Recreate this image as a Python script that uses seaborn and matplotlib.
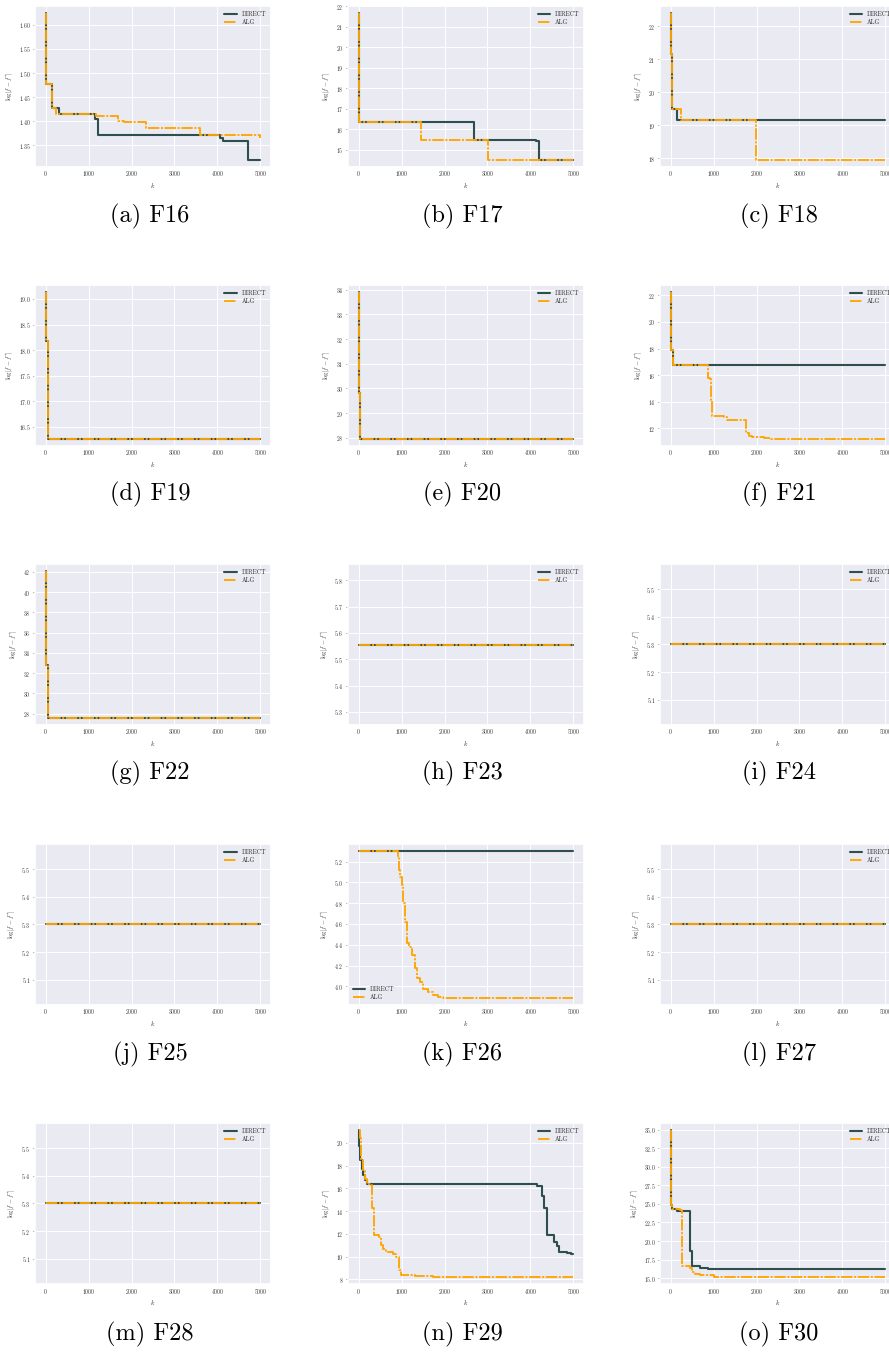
import matplotlib
matplotlib.use("Agg")
import matplotlib.pyplot as plt
from matplotlib.ticker import MaxNLocator
import seaborn as sns

# ---- convergence histories: evaluation count k and log|f - f*| ----
F16_K_DIRECT = [0, 5, 15, 148, 303, 1157, 1211, 4060, 4120, 4713, 5000]
F16_V_DIRECT = [1.624, 1.533, 1.478, 1.428, 1.415, 1.405, 1.371, 1.366, 1.358, 1.320, 1.320]
F16_K_ALG = [0, 5, 15, 148, 240, 1172, 1693, 1832, 2345, 3602, 4990, 5000]
F16_V_ALG = [1.624, 1.533, 1.478, 1.428, 1.415, 1.411, 1.401, 1.398, 1.385, 1.371, 1.366, 1.366]

F17_K_DIRECT = [0, 8, 15, 2686, 4138, 4193, 5000]
F17_V_DIRECT = [21.65, 20.2, 16.35, 15.48, 15.43, 14.52, 14.52]
F17_K_ALG = [0, 8, 15, 1452, 3020, 5000]
F17_V_ALG = [21.65, 20.2, 16.35, 15.5, 14.52, 14.52]

F18_K_DIRECT = [0, 10, 30, 155, 5000]
F18_V_DIRECT = [22.4, 21.15, 19.5, 19.17, 19.17]
F18_K_ALG = [0, 10, 30, 248, 1990, 5000]
F18_V_ALG = [22.4, 21.15, 19.5, 19.17, 17.95, 17.95]

F19_K_DIRECT = [0, 15, 62, 5000]
F19_V_DIRECT = [19.13, 18.17, 16.27, 16.27]
F19_K_ALG = [0, 15, 62, 5000]
F19_V_ALG = [19.13, 18.17, 16.27, 16.27]

F20_K_DIRECT = [0, 15, 31, 5000]
F20_V_DIRECT = [33.89, 29.8, 27.97, 27.97]
F20_K_ALG = [0, 15, 31, 5000]
F20_V_ALG = [33.89, 29.8, 27.97, 27.97]

F21_K_DIRECT = [0, 15, 46, 5000]
F21_V_DIRECT = [22.23, 17.9, 16.78, 16.78]
F21_K_ALG = [0, 15, 46, 860, 922, 945, 969, 1248, 1310, 1752, 1814, 1891, 2163, 2333, 5000]
F21_V_ALG = [22.23, 17.9, 16.78, 15.8, 15.7, 14.1, 12.93, 12.85, 12.63, 11.67, 11.45, 11.35, 11.3, 11.22, 11.22]

F22_K_DIRECT = [0, 15, 55, 5000]
F22_V_DIRECT = [42.05, 32.8, 27.6, 27.6]
F22_K_ALG = [0, 15, 55, 5000]
F22_V_ALG = [42.05, 32.8, 27.6, 27.6]

F23_K_DIRECT = [0, 5000]
F23_V_DIRECT = [5.556, 5.556]
F23_K_ALG = [0, 5000]
F23_V_ALG = [5.556, 5.556]

F24_K_DIRECT = [0, 5000]
F24_V_DIRECT = [5.3, 5.3]
F24_K_ALG = [0, 5000]
F24_V_ALG = [5.3, 5.3]

F25_K_DIRECT = [0, 5000]
F25_V_DIRECT = [5.3, 5.3]
F25_K_ALG = [0, 5000]
F25_V_ALG = [5.3, 5.3]

F26_K_DIRECT = [0, 5000]
F26_V_DIRECT = [5.3, 5.3]
F26_K_ALG = [0, 910, 932, 963, 1000, 1040, 1087, 1118, 1172, 1234, 1312, 1366, 1429, 1506, 1623,
             1739, 1856, 1972, 5000]
F26_V_ALG = [5.3, 5.25, 5.12, 5.05, 4.98, 4.80, 4.62, 4.42, 4.38, 4.30, 4.18, 4.08, 4.04, 3.97, 3.94,
             3.92, 3.90, 3.89, 3.89]

F27_K_DIRECT = [0, 5000]
F27_V_DIRECT = [5.3, 5.3]
F27_K_ALG = [0, 5000]
F27_V_ALG = [5.3, 5.3]

F28_K_DIRECT = [0, 5000]
F28_V_DIRECT = [5.3, 5.3]
F28_K_ALG = [0, 5000]
F28_V_ALG = [5.3, 5.3]

F29_K_DIRECT = [0, 15, 31, 78, 93, 155, 186, 4146, 4262, 4325, 4387, 4557, 4612, 4674, 4845, 4938, 5000]
F29_V_DIRECT = [21.1, 19.7, 18.5, 17.7, 17.2, 16.7, 16.4, 16.2, 15.3, 14.3, 11.88, 11.3, 10.9, 10.41,
                10.3, 10.2, 10.2]
F29_K_ALG = [0, 20, 54, 100, 147, 186, 280, 303, 357, 481, 512, 559, 637, 792, 870, 932, 986, 1118,
             1312, 1739, 5000]
F29_V_ALG = [21.1, 20.4, 18.5, 17.5, 16.8, 16.4, 16.3, 14.3, 11.9, 11.7, 11.0, 10.7, 10.4, 10.2, 9.97,
             8.79, 8.41, 8.35, 8.28, 8.23, 8.23]

F30_K_DIRECT = [0, 8, 30, 147, 442, 504, 690, 860, 922, 5000]
F30_V_DIRECT = [34.9, 24.8, 24.35, 24.1, 18.6, 16.6, 16.4, 16.3, 16.26, 16.26]
F30_K_ALG = [0, 8, 30, 225, 264, 457, 504, 574, 690, 1000, 5000]
F30_V_ALG = [34.9, 24.8, 24.35, 24.2, 16.6, 16.4, 15.8, 15.5, 15.4, 15.2, 15.2]

PANEL_LETTERS = list("abcdefghijklmno")
FUNCTION_NAMES = ["F16", "F17", "F18", "F19", "F20", "F21", "F22", "F23", "F24", "F25",
                  "F26", "F27", "F28", "F29", "F30"]
SERIES_NAMES = ["DIRECT", "ALG"]

HISTORIES = [
    (F16_K_DIRECT, F16_V_DIRECT, F16_K_ALG, F16_V_ALG),
    (F17_K_DIRECT, F17_V_DIRECT, F17_K_ALG, F17_V_ALG),
    (F18_K_DIRECT, F18_V_DIRECT, F18_K_ALG, F18_V_ALG),
    (F19_K_DIRECT, F19_V_DIRECT, F19_K_ALG, F19_V_ALG),
    (F20_K_DIRECT, F20_V_DIRECT, F20_K_ALG, F20_V_ALG),
    (F21_K_DIRECT, F21_V_DIRECT, F21_K_ALG, F21_V_ALG),
    (F22_K_DIRECT, F22_V_DIRECT, F22_K_ALG, F22_V_ALG),
    (F23_K_DIRECT, F23_V_DIRECT, F23_K_ALG, F23_V_ALG),
    (F24_K_DIRECT, F24_V_DIRECT, F24_K_ALG, F24_V_ALG),
    (F25_K_DIRECT, F25_V_DIRECT, F25_K_ALG, F25_V_ALG),
    (F26_K_DIRECT, F26_V_DIRECT, F26_K_ALG, F26_V_ALG),
    (F27_K_DIRECT, F27_V_DIRECT, F27_K_ALG, F27_V_ALG),
    (F28_K_DIRECT, F28_V_DIRECT, F28_K_ALG, F28_V_ALG),
    (F29_K_DIRECT, F29_V_DIRECT, F29_K_ALG, F29_V_ALG),
    (F30_K_DIRECT, F30_V_DIRECT, F30_K_ALG, F30_V_ALG),
]

# ---- style ----
sns.set_theme(style="darkgrid")
plt.rcParams["font.family"] = ["cmr10", "DejaVu Serif"]
plt.rcParams["mathtext.fontset"] = "cm"
plt.rcParams["axes.formatter.use_mathtext"] = True
plt.rcParams["axes.unicode_minus"] = False

DIRECT_COLOR = "#2F4F4F"
ALG_COLOR = "#FFA500"
ALG_DASH = (0, (6.1, 0.85, 1.1, 0.85))

W, H = 889, 1353
fig = plt.figure(figsize=(W / 100, H / 100), dpi=100)
fig.patch.set_facecolor("white")

COL_LEFT = [35, 348, 660]
ROW_TOP = [6, 285, 564, 844, 1123]
AX_W, AX_H = 236, 161
CAPTION_X = [150, 462, 779]
CAPTION_Y = [216, 494, 773, 1054, 1334]

for i, (letter, fname, hist) in enumerate(zip(PANEL_LETTERS, FUNCTION_NAMES, HISTORIES)):
    r, c = divmod(i, 3)
    left, top = COL_LEFT[c], ROW_TOP[r]
    ax = fig.add_axes([left / W, 1 - (top + AX_H) / H, AX_W / W, AX_H / H])
    kd, vd, ka, va = hist
    sns.lineplot(x=kd, y=vd, ax=ax, color=DIRECT_COLOR, linewidth=1.5,
                 drawstyle="steps-post", estimator=None, sort=False, label=SERIES_NAMES[0])
    sns.lineplot(x=ka, y=va, ax=ax, color=ALG_COLOR, linewidth=1.35, linestyle=ALG_DASH,
                 drawstyle="steps-post", estimator=None, sort=False, label=SERIES_NAMES[1])
    ax.yaxis.set_major_locator(MaxNLocator(nbins=9, steps=[1, 2, 2.5, 5, 10]))
    ax.xaxis.set_major_locator(MaxNLocator(nbins=9, steps=[1, 2, 2.5, 5, 10]))
    ax.grid(True, color="white", linewidth=0.7)
    ax.tick_params(axis="both", labelsize=4.1, pad=1.8, colors="#333333")
    ax.tick_params(axis="y", length=1.5, width=0.5, left=True)
    ax.tick_params(axis="x", length=0)
    ax.set_xlabel(r"$k$", fontsize=4.6, labelpad=1.5, color="#333333")
    ax.set_ylabel(r"$\log|f-f^{*}|$", fontsize=4.6, labelpad=2, color="#333333")
    loc = "lower left" if fname == "F26" else "upper right"
    ax.legend(loc=loc, fontsize=4.4, frameon=False, handlelength=2.0,
              borderaxespad=0.4, labelspacing=0.35)
    fig.text(CAPTION_X[c] / W, 1 - CAPTION_Y[r] / H, f"({letter}) {fname}",
             ha="center", va="center", fontsize=17.5, color="black")

fig.savefig("out.png", dpi=100, facecolor="white")
